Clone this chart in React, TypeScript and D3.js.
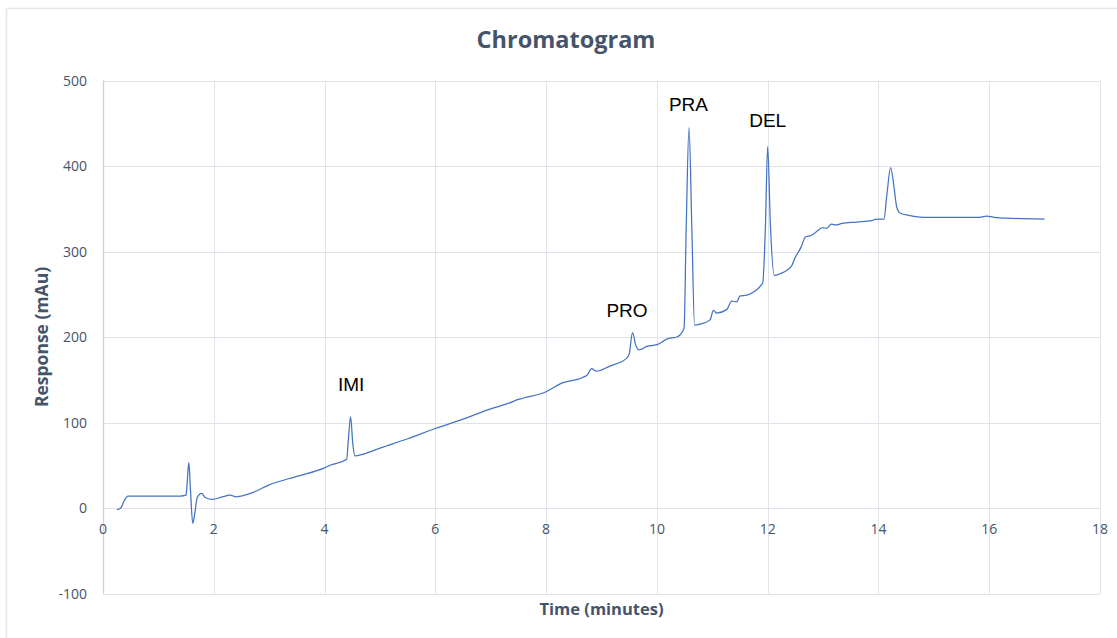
import { useEffect, useRef } from "react";
import * as d3 from "d3";

// retention time (min) and detector response (mAu)
const times = [
  0.25, 0.32, 0.38, 0.45, 0.6, 1.0, 1.4, 1.5, 1.52, 1.55, 1.58, 1.62, 1.66, 1.7, 1.78, 1.85, 1.98,
  2.15, 2.3, 2.4, 2.5, 2.7, 3.0, 3.5, 4.0, 4.1, 4.4, 4.43, 4.47, 4.51, 4.55, 4.7, 5.0, 5.5, 6.0,
  6.5, 7.0, 7.3, 7.5, 8.0, 8.28, 8.67, 8.75, 8.82, 8.91, 9.15, 9.45, 9.5, 9.56, 9.62, 9.68, 9.82,
  10.0, 10.2, 10.36, 10.49, 10.53, 10.58, 10.63, 10.68, 10.78, 10.96, 11.02, 11.08, 11.26, 11.35,
  11.44, 11.5, 11.62, 11.91, 11.96, 12.0, 12.05, 12.12, 12.22, 12.43, 12.49, 12.61, 12.68, 12.79,
  12.88, 12.99, 13.06, 13.15, 13.25, 13.34, 13.61, 13.88, 13.94, 14.1, 14.15, 14.22, 14.28,
  14.33, 14.39, 14.57, 14.81, 15.41, 15.83, 15.95, 16.13, 16.31, 17.0,
];
const responses = [
  -2, 0, 8, 14, 14, 14, 14, 15, 30, 53, 20, -18, -5, 12, 17, 12, 10,
  13, 15, 13, 14, 18, 27, 37, 47, 50, 57, 80, 107, 75, 61, 63, 70, 81, 93,
  104, 116, 122, 127, 136, 146, 153, 156, 163, 160, 166, 175, 180, 205, 190, 185, 189,
  191, 198, 200, 210, 330, 445, 330, 214, 215, 220, 231, 228, 232, 242,
  241, 248, 249, 263, 330, 423, 330, 272, 274, 283, 292, 306, 317, 319,
  323, 328, 327, 332, 331, 333, 334.5, 336, 337.7, 338, 365, 398, 376,
  352, 345, 342, 340, 340, 340, 341.5, 339.5, 339, 338,
];

// peak annotations: label, time, response at text baseline
const peakNames = ["IMI", "PRO", "PRA", "DEL"];
const peakTimes = [4.48, 9.46, 10.57, 12.0];
const peakLabelValues = [137, 223, 464, 446];

const xTicks = [0, 2, 4, 6, 8, 10, 12, 14, 16, 18];
const yTicks = [-100, 0, 100, 200, 300, 400, 500];

export default function App() {
  const svgRef = useRef<SVGSVGElement>(null);

  useEffect(() => {
    if (!svgRef.current) return;
    const width = 1117;
    const height = 638;
    const margin = { top: 80.5, right: 17, bottom: 44.5, left: 103 };

    const svg = d3.select(svgRef.current);
    svg.selectAll("*").remove();
    svg.attr("width", width).attr("height", height);

    const x = d3.scaleLinear().domain([0, 18]).range([margin.left, width - margin.right]);
    const y = d3.scaleLinear().domain([-100, 500]).range([height - margin.bottom, margin.top]);

    const textColor = "#44546a";
    const font = "'Open Sans', 'Noto Sans', sans-serif";

    // outer chart frame
    svg.append("rect")
      .attr("x", 6.5).attr("y", 8.5)
      .attr("width", 1300).attr("height", 800)
      .attr("fill", "#fff")
      .attr("stroke", "#e6e7ec").attr("stroke-width", 1.5);

    // gridlines
    const grid = svg.append("g").attr("stroke", "#e1e3ea").attr("stroke-width", 1);
    yTicks.forEach((t) => {
      grid.append("line")
        .attr("x1", x(0)).attr("x2", x(18))
        .attr("y1", Math.round(y(t)) + 0.5).attr("y2", Math.round(y(t)) + 0.5);
    });
    xTicks.forEach((t) => {
      if (t === 0) return;
      grid.append("line")
        .attr("x1", Math.round(x(t)) + 0.5).attr("x2", Math.round(x(t)) + 0.5)
        .attr("y1", y(500)).attr("y2", y(-100));
    });

    // y axis line
    svg.append("line")
      .attr("x1", Math.round(x(0)) + 0.5).attr("x2", Math.round(x(0)) + 0.5)
      .attr("y1", y(500)).attr("y2", y(-100))
      .attr("stroke", "#cdd2dd").attr("stroke-width", 1.3);

    // tick labels
    svg.append("g").selectAll("text").data(yTicks).join("text")
      .attr("x", 87).attr("y", (d) => y(d) + 5)
      .attr("text-anchor", "end")
      .attr("font-family", font).attr("font-size", 14)
      .attr("fill", textColor)
      .text((d) => String(d));

    svg.append("g").selectAll("text").data(xTicks).join("text")
      .attr("x", (d) => x(d)).attr("y", y(0) + 26)
      .attr("text-anchor", "middle")
      .attr("font-family", font).attr("font-size", 14)
      .attr("fill", textColor)
      .text((d) => String(d));

    // trace
    const points = times.map((t, i) => [t, responses[i]] as [number, number]);
    const line = d3.line<[number, number]>()
      .x((d) => x(d[0]))
      .y((d) => y(d[1]))
      .curve(d3.curveMonotoneX);
    svg.append("path")
      .datum(points)
      .attr("d", line)
      .attr("fill", "none")
      .attr("stroke", "#4472c4")
      .attr("stroke-width", 1.25)
      .attr("stroke-linejoin", "round");

    // peak labels
    peakNames.forEach((name, i) => {
      svg.append("text")
        .attr("x", x(peakTimes[i])).attr("y", y(peakLabelValues[i]))
        .attr("text-anchor", "middle")
        .attr("font-family", "'Liberation Sans', Arial, sans-serif")
        .attr("font-size", 19)
        .attr("fill", "#000")
        .text(name);
    });

    // titles
    svg.append("text")
      .attr("x", 566).attr("y", 48)
      .attr("text-anchor", "middle")
      .attr("font-family", font).attr("font-size", 23.5).attr("font-weight", 700)
      .attr("fill", textColor)
      .text("Chromatogram");

    svg.append("text")
      .attr("x", (x(0) + x(18)) / 2).attr("y", 615)
      .attr("text-anchor", "middle")
      .attr("font-family", font).attr("font-size", 16.5).attr("font-weight", 700)
      .attr("fill", textColor)
      .text("Time (minutes)");

    svg.append("text")
      .attr("transform", `translate(48,${(y(500) + y(-100)) / 2}) rotate(-90)`)
      .attr("text-anchor", "middle")
      .attr("font-family", font).attr("font-size", 17.5).attr("font-weight", 700)
      .attr("fill", textColor)
      .text("Response (mAu)");
  }, []);

  return (
    <div style={{ position: "absolute", left: 0, top: 0, width: 1117, height: 638, overflow: "hidden" }}>
      <svg ref={svgRef} style={{ display: "block" }} />
    </div>
  );
}
